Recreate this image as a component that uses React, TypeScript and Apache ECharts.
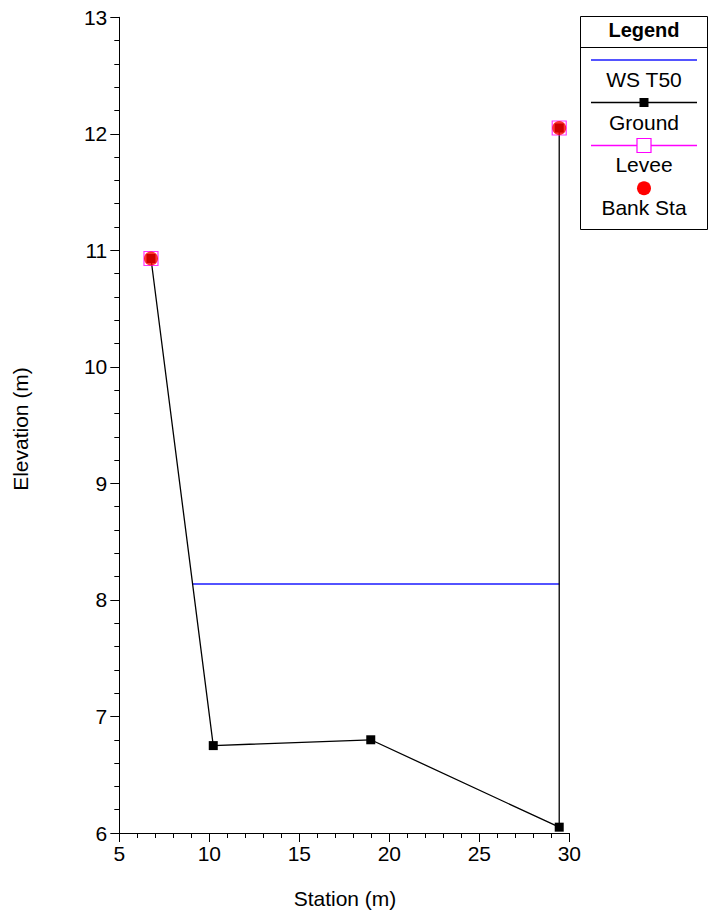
import React, { useEffect, useRef } from "react";
import * as echarts from "echarts";

const wsStation = [9.07, 29.44];
const wsElev = [8.136, 8.136];
const groundStation = [6.76, 10.22, 18.97, 29.44, 29.44];
const groundElev = [10.93, 6.75, 6.8, 6.05, 12.05];
const leveeStation = [6.76, 29.44];
const leveeElev = [10.93, 12.05];
const bankStation = [6.76, 29.44];
const bankElev = [10.93, 12.05];
const legendLabels = ["WS T50", "Ground", "Levee", "Bank Sta"];

const FONT = "Arial, 'Liberation Sans', sans-serif";

function zip(a: number[], b: number[]) {
  return a.map((v, i) => [v, b[i]]);
}

export default function App() {
  const ref = useRef<HTMLDivElement>(null);
  useEffect(() => {
    const chart = echarts.init(ref.current!, null, { renderer: "svg" });
    const lx0 = 591;
    const lx1 = 697;
    const cx = 644;
    const txt = (s: string, x: number, y: number, extra: any = {}) => ({
      type: "text",
      x,
      y,
      style: {
        text: s,
        fill: "#000",
        font: `21px ${FONT}`,
        align: "center",
        verticalAlign: "middle",
        textAlign: "center",
        textVerticalAlign: "middle",
        ...extra,
      },
    });
    chart.setOption({
      animation: false,
      backgroundColor: "#fff",
      grid: { left: 119.3, right: 145.7, top: 17.3, bottom: 78 },
      xAxis: {
        type: "value",
        min: 5,
        max: 30,
        interval: 5,
        axisLine: { lineStyle: { color: "#000", width: 1 } },
        axisTick: { length: 9, lineStyle: { color: "#000" } },
        minorTick: { show: true, splitNumber: 5, length: 5, lineStyle: { color: "#000" } },
        splitLine: { show: false },
        axisLabel: { color: "#000", fontSize: 21, fontFamily: FONT, margin: 10 },
      },
      yAxis: {
        type: "value",
        min: 6,
        max: 13,
        interval: 1,
        axisLine: { show: true, lineStyle: { color: "#000", width: 1 } },
        axisTick: { show: true, length: 9, lineStyle: { color: "#000" } },
        minorTick: { show: true, splitNumber: 5, length: 5, lineStyle: { color: "#000" } },
        splitLine: { show: false },
        axisLabel: { color: "#000", fontSize: 21, fontFamily: FONT, margin: 12 },
      },
      series: [
        {
          name: legendLabels[0],
          type: "line",
          data: zip(wsStation, wsElev),
          showSymbol: false,
          symbol: "none",
          lineStyle: { color: "#1a1aff", width: 1.5 },
          z: 2,
        },
        {
          name: legendLabels[1],
          type: "line",
          data: zip(groundStation, groundElev),
          symbol: "rect",
          symbolSize: 9,
          itemStyle: { color: "#000" },
          lineStyle: { color: "#000", width: 1.3 },
          z: 3,
        },
        {
          name: legendLabels[2],
          type: "scatter",
          data: zip(leveeStation, leveeElev),
          symbol: "rect",
          symbolSize: 14,
          itemStyle: { color: "rgba(0,0,0,0)", borderColor: "#ff00ff", borderWidth: 1.2 },
          z: 4,
        },
        {
          name: legendLabels[3],
          type: "scatter",
          data: zip(bankStation, bankElev),
          symbol: "circle",
          symbolSize: 14,
          itemStyle: { color: "#ff0000" },
          z: 5,
        },
      ],
      graphic: [
        txt("Station (m)", 345, 898),
        {
          ...txt("Elevation (m)", 20, 429),
          rotation: Math.PI / 2,
        },
        {
          type: "rect",
          shape: { x: 580.5, y: 16.5, width: 127, height: 213 },
          style: { fill: "#fff", stroke: "#000", lineWidth: 1 },
          z: 10,
        },
        {
          type: "line",
          shape: { x1: 580.5, y1: 47.5, x2: 707.5, y2: 47.5 },
          style: { stroke: "#000", lineWidth: 1 },
          z: 11,
        },
        { ...txt("Legend", cx, 30, { font: `bold 20px ${FONT}` }), z: 11 },
        {
          type: "line",
          shape: { x1: lx0, y1: 60, x2: lx1, y2: 60 },
          style: { stroke: "#1a1aff", lineWidth: 1.5 },
          z: 11,
        },
        { ...txt(legendLabels[0], cx, 79), z: 11 },
        {
          type: "line",
          shape: { x1: lx0, y1: 102.5, x2: lx1, y2: 102.5 },
          style: { stroke: "#000", lineWidth: 1.3 },
          z: 11,
        },
        {
          type: "rect",
          shape: { x: cx - 4.5, y: 98, width: 9, height: 9 },
          style: { fill: "#000" },
          z: 12,
        },
        { ...txt(legendLabels[1], cx, 122), z: 11 },
        {
          type: "line",
          shape: { x1: lx0, y1: 145.5, x2: lx1, y2: 145.5 },
          style: { stroke: "#ff00ff", lineWidth: 1.3 },
          z: 11,
        },
        {
          type: "rect",
          shape: { x: cx - 7, y: 138.5, width: 14, height: 14 },
          style: { fill: "#fff", stroke: "#ff00ff", lineWidth: 1.2 },
          z: 12,
        },
        { ...txt(legendLabels[2], cx, 164.5), z: 11 },
        {
          type: "circle",
          shape: { cx: cx, cy: 188.3, r: 7 },
          style: { fill: "#ff0000" },
          z: 11,
        },
        { ...txt(legendLabels[3], cx, 207), z: 11 },
      ],
    });
    return () => chart.dispose();
  }, []);
  return (
    <div
      ref={ref}
      style={{ position: "fixed", left: 0, top: 0, width: 715, height: 911, background: "#fff" }}
    />
  );
}
